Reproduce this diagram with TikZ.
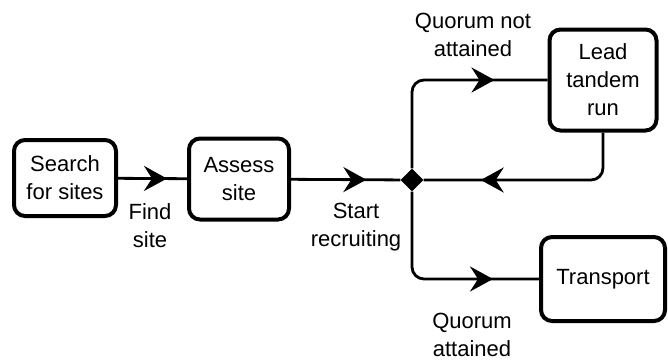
\documentclass[tikz,border=0pt]{standalone}
\usepackage{fontspec}
\setmainfont{Liberation Sans}
\usetikzlibrary{arrows.meta,shapes.geometric,decorations.markings}

\begin{document}
\begin{tikzpicture}[x=1pt,y=-1pt,
		font=\fontsize{22}{28}\selectfont,
		stage/.style={draw, line width=4pt, rounded corners=11pt, align=center, inner sep=0pt},
		choice/.style={diamond, fill=black, inner sep=0pt, minimum size=23pt},
		lbl/.style={align=center, inner sep=0pt},
		flow/.style={line width=2.8pt, rounded corners=12pt},
		tip at/.style={postaction={decorate, decoration={markings,
			mark=at position #1 with {\arrow{Stealth[length=23pt,width=25pt,inset=8pt]}}}}}]
	\useasboundingbox (0,0) rectangle (668,360);
	\node[stage, minimum width=102pt, minimum height=76pt] (search) at (65,178) {Search\\for sites};
	\node[stage, minimum width=100pt, minimum height=81pt] (assess) at (239,179) {Assess\\site};
	\node[choice] (fork) at (412,180) {};
	\node[stage, minimum width=107pt, minimum height=101pt] (lead) at (603,80) {Lead\\tandem\\run};
	\node[stage, minimum width=124pt, minimum height=84pt] (transport) at (603,279) {Transport};
	\node[lbl] (findlbl) at (150,226) {Find\\site};
	\node[lbl] (startlbl) at (356,227) {Start\\recruiting};
	\node[lbl] (notlbl) at (473,35) {Quorum not\\attained};
	\node[lbl] (yeslbl) at (472,335) {Quorum\\attained};
	\draw[flow, tip at=-20pt] (search) -- (assess);
	\draw[flow, tip at=-34pt] (assess) -- (fork);
	\draw[flow, tip at=-53pt] (fork.north) |- (lead.west);
	\draw[flow, tip at=-57pt] (lead.south) |- (fork.east);
	\draw[flow, tip at=-46pt] (fork.south) |- (transport.west);
\end{tikzpicture}
\end{document}
